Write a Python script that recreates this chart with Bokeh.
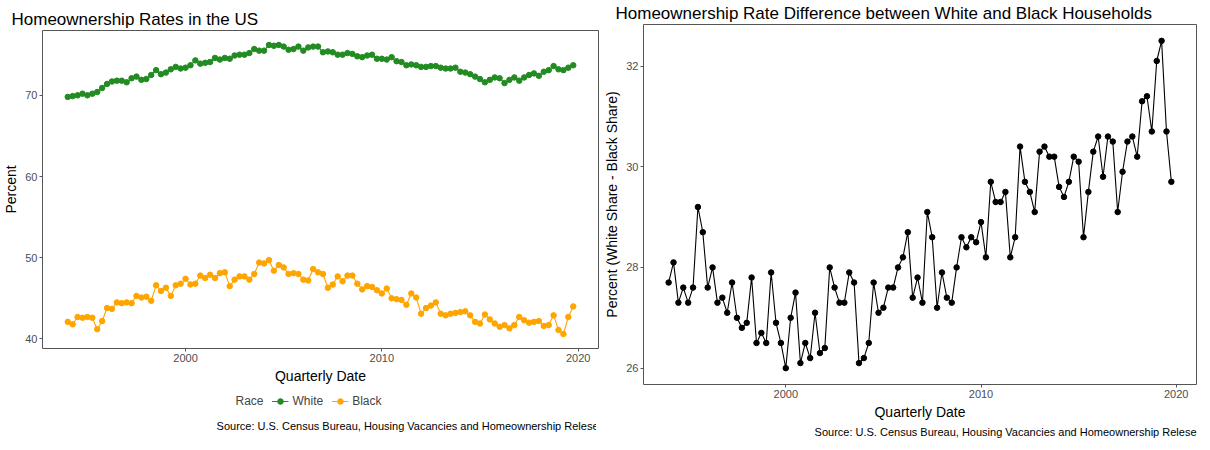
import pandas as pd

from bokeh.embed import file_html
from bokeh.layouts import column, row
from bokeh.models import FixedTicker, Legend, LegendItem, Range1d, Title
from bokeh.plotting import figure
from bokeh.resources import INLINE

# quarterly dates 1994 Q1 .. 2019 Q4
quarters = pd.date_range("1994-01-01", "2019-10-01", freq="QS")

white = [69.8, 69.9, 70.0, 70.2, 70.0, 70.2, 70.4, 70.9, 71.4, 71.7, 71.8, 71.8, 71.6, 72.1, 72.3, 71.9,
         72.0, 72.5, 73.1, 72.6, 72.8, 73.2, 73.5, 73.3, 73.4, 73.7, 74.3, 73.9, 74.0, 74.1, 74.6, 74.4,
         74.6, 74.5, 74.9, 75.0, 75.0, 75.2, 75.7, 75.5, 75.5, 76.2, 76.1, 76.2, 76.0, 75.6, 75.7, 76.0,
         75.5, 75.9, 76.0, 76.0, 75.3, 75.4, 75.3, 75.0, 75.0, 75.2, 75.1, 74.8, 74.7, 74.9, 75.0, 74.5,
         74.5, 74.4, 74.7, 74.2, 74.1, 73.7, 73.8, 73.7, 73.5, 73.5, 73.6, 73.6, 73.4, 73.3, 73.3, 73.4,
         72.9, 72.8, 72.6, 72.3, 72.0, 71.6, 71.9, 72.2, 72.1, 71.5, 71.9, 72.2, 71.8, 72.2, 72.5, 72.7,
         72.4, 72.9, 73.1, 73.6, 73.2, 73.1, 73.4, 73.7]
black = [42.1, 41.8, 42.7, 42.6, 42.7, 42.6, 41.2, 42.2, 43.8, 43.7, 44.5, 44.4, 44.5, 44.4, 45.3, 45.1,
         45.2, 44.7, 46.6, 45.9, 46.3, 45.3, 46.6, 46.8, 47.4, 46.7, 46.8, 47.8, 47.5, 47.9, 47.5, 48.1,
         48.2, 46.5, 47.3, 47.7, 47.7, 47.3, 48.0, 49.4, 49.3, 49.7, 48.4, 49.1, 48.8, 48.0, 48.1, 48.0,
         47.3, 47.2, 48.6, 48.2, 48.0, 46.3, 46.7, 47.7, 47.1, 47.8, 47.8, 46.8, 46.1, 46.5, 46.4, 46.0,
         45.6, 46.2, 45.0, 44.9, 44.8, 44.2, 45.6, 45.1, 43.1, 43.8, 44.1, 44.5, 43.1, 42.9, 43.1, 43.2,
         43.3, 43.4, 42.9, 42.1, 41.9, 43.0, 42.4, 41.9, 41.5, 41.7, 41.3, 41.7, 42.7, 42.3, 42.0, 42.1,
         42.2, 41.6, 41.7, 42.9, 41.1, 40.6, 42.7, 44.0]
gap = [27.7, 28.1, 27.3, 27.6, 27.3, 27.6, 29.2, 28.7, 27.6, 28.0, 27.3, 27.4, 27.1, 27.7, 27.0, 26.8,
       26.9, 27.8, 26.5, 26.7, 26.5, 27.9, 26.9, 26.5, 26.0, 27.0, 27.5, 26.1, 26.5, 26.2, 27.1, 26.3,
       26.4, 28.0, 27.6, 27.3, 27.3, 27.9, 27.7, 26.1, 26.2, 26.5, 27.7, 27.1, 27.2, 27.6, 27.6, 28.0,
       28.2, 28.7, 27.4, 27.8, 27.3, 29.1, 28.6, 27.2, 27.9, 27.4, 27.3, 28.0, 28.6, 28.4, 28.6, 28.5,
       28.9, 28.2, 29.7, 29.3, 29.3, 29.5, 28.2, 28.6, 30.4, 29.7, 29.5, 29.1, 30.3, 30.4, 30.2, 30.2,
       29.6, 29.4, 29.7, 30.2, 30.1, 28.6, 29.5, 30.3, 30.6, 29.8, 30.6, 30.5, 29.1, 29.9, 30.5, 30.6,
       30.2, 31.3, 31.4, 30.7, 32.1, 32.5, 30.7, 29.7]

x_ticks = [2000, 2010, 2020]
left_y_ticks = [40, 50, 60, 70]
right_y_ticks = [26, 28, 30, 32]

FONT = "Liberation Sans"
CAPTION = "Source: U.S. Census Bureau, Housing Vacancies and Homeownership Relese"
GREEN = "#228b22"
ORANGE = "#ffa500"

years = [d.year + (d.month - 1) / 12 for d in quarters]


def padded(values, frac=0.05):
    lo, hi = min(values), max(values)
    d = (hi - lo) * frac
    return Range1d(lo - d, hi + d)


def style(p, title_offset, y_ticks):
    p.title.text_font = FONT
    p.title.text_font_size = "17px"
    p.title.text_font_style = "normal"
    p.title.text_color = "black"
    p.title.offset = title_offset
    p.title.standoff = 3
    p.xaxis.ticker = FixedTicker(ticks=x_ticks)
    p.yaxis.ticker = FixedTicker(ticks=y_ticks)
    for ax in (p.xaxis[0], p.yaxis[0]):
        ax.axis_line_color = None
        ax.major_tick_line_color = "#555555"
        ax.major_tick_out = 3
        ax.major_tick_in = 0
        ax.minor_tick_line_color = None
        ax.major_label_text_font = FONT
        ax.major_label_text_font_size = "11px"
        ax.major_label_text_color = "#4d4d4d"
        ax.major_label_standoff = 2
        ax.axis_label_text_font = FONT
        ax.axis_label_text_font_size = "14px"
        ax.axis_label_text_font_style = "normal"
        ax.axis_label_text_color = "black"
        ax.axis_label_standoff = 3
    p.xgrid.grid_line_color = None
    p.ygrid.grid_line_color = None
    p.outline_line_color = "#555555"
    p.outline_line_width = 1
    p.background_fill_color = "white"
    p.border_fill_color = "white"


def caption(p):
    t = Title(text=CAPTION, align="right", text_font=FONT, text_font_size="11px",
              text_font_style="normal", text_color="black", standoff=2)
    p.add_layout(t, "below")


# left: rates by race
p1 = figure(frame_width=556, frame_height=318, min_border_left=37, min_border_right=3,
            min_border_top=30, min_border_bottom=0,
            x_range=padded(years), y_range=padded(white + black),
            title="Homeownership Rates in the US",
            x_axis_label="Quarterly Date", y_axis_label="Percent",
            toolbar_location=None, output_backend="svg")
style(p1, -31, left_y_ticks)

p1.line(years, white, line_color=GREEN, line_width=1.1)
p1.scatter(years, white, size=5.5, color=GREEN)
p1.line(years, black, line_color=ORANGE, line_width=1.1)
p1.scatter(years, black, size=5.5, color=ORANGE)

# legend + caption strip under the left chart (ggplot puts them below the axis title);
# the key renderers carry the series but fall outside this strip's 0..1 ranges
pl = figure(frame_width=556, frame_height=30, min_border_left=37, min_border_right=3,
            min_border_top=0, min_border_bottom=18,
            x_range=Range1d(0, 1), y_range=Range1d(0, 1),
            toolbar_location=None, output_backend="svg")
pl.axis.visible = False
pl.grid.visible = False
pl.outline_line_color = None
race = pl.scatter(years, white, size=0, alpha=0)
kw = pl.line(years, white, line_color=GREEN, line_width=1.1)
kw_dot = pl.scatter(years, white, size=5.5, color=GREEN)
kb = pl.line(years, black, line_color=ORANGE, line_width=1.1)
kb_dot = pl.scatter(years, black, size=5.5, color=ORANGE)
leg = Legend(items=[LegendItem(label="Race", renderers=[race]),
                    LegendItem(label="White", renderers=[kw, kw_dot]),
                    LegendItem(label="Black", renderers=[kb, kb_dot])],
             orientation="horizontal", location="center")
leg.label_text_font = FONT
leg.label_text_font_size = "12px"
leg.glyph_width = 17
leg.glyph_height = 14
leg.label_height = 14
leg.label_standoff = 4
leg.spacing = 8
leg.margin = 0
leg.padding = 0
leg.border_line_color = None
leg.background_fill_alpha = 0
pl.add_layout(leg)
caption(pl)

# right: white minus black
p2 = figure(frame_width=553, frame_height=360, min_border_left=42, min_border_right=1,
            min_border_top=22, min_border_bottom=52,
            x_range=padded(years), y_range=padded(gap),
            title="Homeownership Rate Difference between White and Black Households",
            x_axis_label="Quarterly Date", y_axis_label="Percent (White Share - Black Share)",
            toolbar_location=None, output_backend="svg")
style(p2, -28, right_y_ticks)
p2.line(years, gap, line_color="black", line_width=1.1)
p2.scatter(years, gap, size=5.5, color="black")
caption(p2)

open("out.html", "w").write(file_html(row(column(p1, pl), p2), INLINE))
